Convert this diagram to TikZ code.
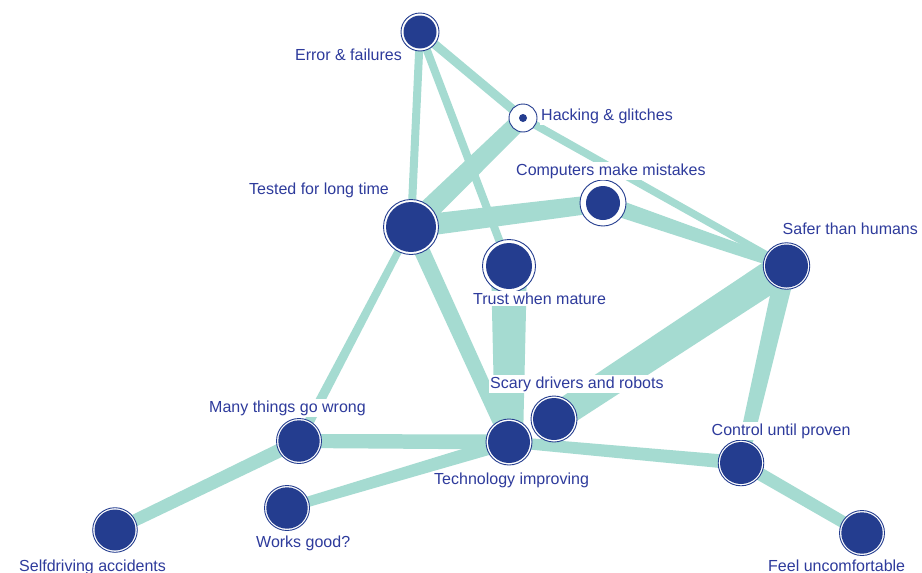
\documentclass[tikz,border=0pt]{standalone}
\usepackage{fontspec}
\setmainfont{Liberation Sans}
\usetikzlibrary{calc,backgrounds}

\definecolor{dblue}{HTML}{243D8F}
\definecolor{lblue}{HTML}{2E3B9C}
\definecolor{linkteal}{HTML}{A5DBD1}

\tikzset{
  vertex/.style n args={2}{circle, draw=dblue, line width=0.9pt, fill=white,
    inner sep=0pt, minimum size=#1,
    path picture={\fill[dblue] (path picture bounding box.center) circle[radius=#2];}},
  lab/.style={text=lblue, fill=white, inner xsep=1pt, inner ysep=1.5pt,
    font=\fontsize{16}{19}\selectfont},
  link/.style={fill=linkteal},
}

% tapered band between two nodes: half width #3 at #1, half width #4 at #2
\newcommand\linkband[4]{%
  \fill[link] ($(#1.center)!#3pt!90:(#2.center)$) -- ($(#2.center)!#4pt!-90:(#1.center)$)
    -- ($(#2.center)!#4pt!90:(#1.center)$) -- ($(#1.center)!#3pt!-90:(#2.center)$) -- cycle;}

\begin{document}
\begin{tikzpicture}[x=1pt,y=-1pt]
\useasboundingbox (0,0) rectangle (922,573);

% concepts
\node[vertex={38pt}{16.5pt}] (err) at (420,32) {};
\node[vertex={28pt}{4pt}] (hack) at (523,118) {};
\node[vertex={46pt}{17pt}] (comp) at (603,203) {};
\node[vertex={55pt}{25pt}] (test) at (411,227) {};
\node[vertex={53pt}{23pt}] (trust) at (509,266) {};
\node[vertex={46.5pt}{21.5pt}] (safer) at (786.5,266) {};
\node[vertex={46pt}{21pt}] (scary) at (554,419) {};
\node[vertex={46pt}{21pt}] (tech) at (509,442) {};
\node[vertex={45pt}{20.7pt}] (many) at (299,441) {};
\node[vertex={45pt}{20.7pt}] (works) at (287,508) {};
\node[vertex={44.6pt}{20.5pt}] (self) at (115,530) {};
\node[vertex={45.6pt}{21pt}] (ctrl) at (741,463) {};
\node[vertex={45pt}{20.7pt}] (feel) at (862,533) {};

% links, on a white ground
\begin{pgfonlayer}{background}
\fill[white] (0,0) rectangle (922,573);
\linkband{err}{test}{4}{4}
\linkband{err}{trust}{4}{4}
\linkband{err}{hack}{4.5}{4.5}
\linkband{hack}{safer}{4}{3.5}
\linkband{hack}{test}{8.5}{11}
\linkband{test}{comp}{11}{9}
\linkband{comp}{safer}{8.5}{5}
\linkband{test}{many}{3.5}{5}
\linkband{test}{tech}{8}{7}
\linkband{trust}{tech}{18}{14}
\linkband{safer}{scary}{16}{14}
\linkband{safer}{ctrl}{10}{6.5}
\linkband{many}{tech}{7}{7.5}
\linkband{many}{self}{7}{6}
\linkband{works}{tech}{5}{7}
\linkband{tech}{ctrl}{5.5}{7}
\linkband{ctrl}{feel}{6.5}{6}
\end{pgfonlayer}

% labels
\node[lab, anchor=base east] (lerr) at (403,60) {Error \& failures};
\node[lab, anchor=base west] (lhack) at (540,120) {Hacking \& glitches};
\node[lab, anchor=base west] (lcomp) at (515,175) {Computers make mistakes};
\node[lab, anchor=base west] (ltest) at (248,194) {Tested for long time};
\node[lab, anchor=base west] (ltrust) at (472,304) {Trust when mature};
\node[lab, anchor=base west] (lsafer) at (781.5,234) {Safer than humans};
\node[lab, anchor=base west] (lscary) at (489,388) {Scary drivers and robots};
\node[lab, anchor=base west] (ltech) at (433,484) {Technology improving};
\node[lab, anchor=base west] (lmany) at (208,412) {Many things go wrong};
\node[lab, anchor=base west] (lctrl) at (710.5,435) {Control until proven};
\node[lab, anchor=base west] (lworks) at (255,547) {Works good?};
\node[lab, anchor=base west] (lself) at (18,571) {Selfdriving accidents};
\node[lab, anchor=base west] (lfeel) at (767,571) {Feel uncomfortable};
\end{tikzpicture}
\end{document}
